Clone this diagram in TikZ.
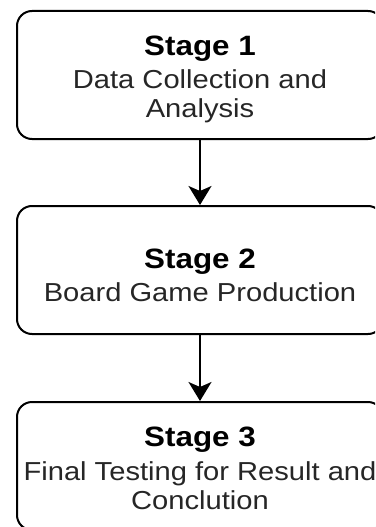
\documentclass[tikz,border=0pt]{standalone}
\usepackage{fontspec}
\setmainfont[FakeStretch=1.12]{Liberation Sans}
\usetikzlibrary{arrows.meta}
\tikzset{
  stagebox/.style={draw=black, line width=2pt, rounded corners=15pt,
    minimum width=366pt, minimum height=128pt, inner sep=0pt},
  stagetext/.style={align=center, inner sep=0pt, font=\fontsize{26}{29}\selectfont, text=black!85},
  flowarrow/.style={line width=1.8pt, -{Stealth[length=19pt,width=23pt,inset=5pt]}},
}
\newcommand{\stitle}[1]{{\fontsize{28}{29}\selectfont\bfseries\color{black} #1}}
\begin{document}
\begin{tikzpicture}
\useasboundingbox (0,0) rectangle (375pt,-527pt);
\clip (0,0) rectangle (375pt,-527pt);
\node[stagebox] (s1) at (200pt,-75pt) {};
\node[stagebox] (s2) at (200pt,-270pt) {};
\node[stagebox] (s3) at (200pt,-466pt) {};
\node[stagetext] (t1) at ([yshift=-4pt]s1.center) {\stitle{Stage 1}\\[4pt]Data Collection and\\Analysis};
\node[stagetext] (t2) at ([yshift=-5pt]s2.center) {\stitle{Stage 2}\\[4pt]Board Game Production};
\node[stagetext] (t3) at ([yshift=-2pt]s3.center) {\stitle{Stage 3}\\[5pt]Final Testing for Result and\\Conclution};
\draw[flowarrow] (s1) -- (s2);
\draw[flowarrow] (s2) -- (s3);
\end{tikzpicture}
\end{document}
